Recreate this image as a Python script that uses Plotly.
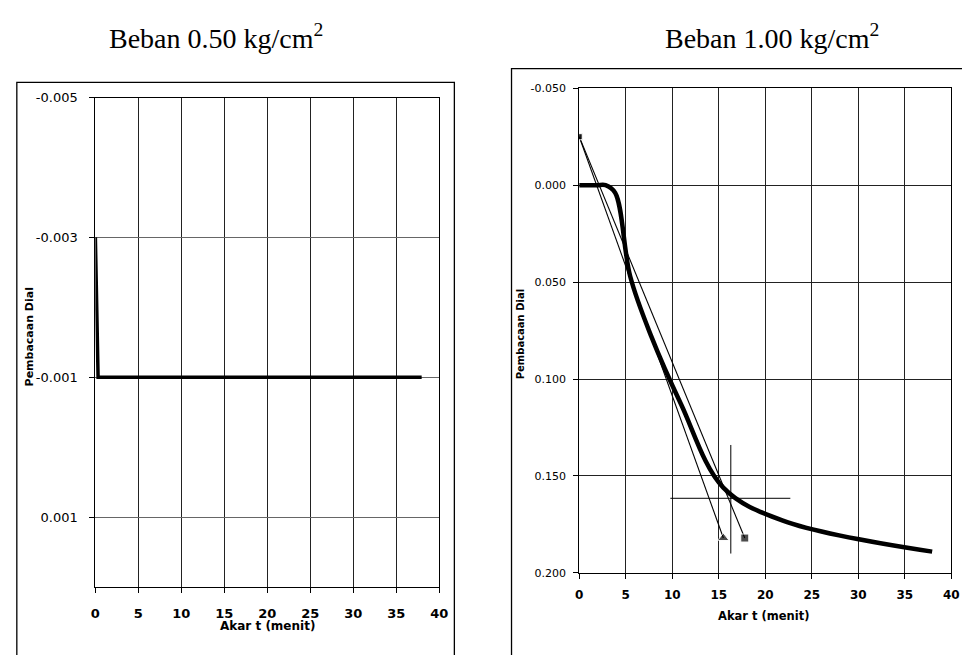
import plotly.graph_objects as go

# ---------------- data ----------------
akar_t = [0, 0.316, 0.5, 0.707, 1.0, 1.414, 2.0, 2.83, 3.87, 5.48, 7.75, 10.95, 15.49, 21.9, 37.95]
dial_050 = [-0.003, -0.001, -0.001, -0.001, -0.001, -0.001, -0.001, -0.001, -0.001,
            -0.001, -0.001, -0.001, -0.001, -0.001, -0.001]
dial_100 = [0.0, 0.0, 0.0, 0.0, 0.0, 0.0, 0.0, 0.0, 0.004, 0.047, 0.078, 0.113, 0.156, 0.173, 0.189]

# construction lines (Taylor sqrt-t method) for 1.00 kg/cm2
tangent_x = [0, 15.5]
tangent_y = [-0.025, 0.182]
line115_x = [0, 17.8]
line115_y = [-0.025, 0.182]
cross_v_x = [16.3, 16.3]
cross_v_y = [0.134, 0.190]
cross_h_x = [9.8, 22.7]
cross_h_y = [0.1615, 0.1615]

x_ticks = [0, 5, 10, 15, 20, 25, 30, 35, 40]
y1_ticks = [-0.005, -0.003, -0.001, 0.001]
y1_labels = ["-0.005", "-0.003", "-0.001", "0.001"]
y2_ticks = [-0.05, 0.0, 0.05, 0.10, 0.15, 0.20]
y2_labels = ["-0.050", "0.000", "0.050", "0.100", "0.150", "0.200"]

title_left = "Beban 0.50 kg/cm<sup>2</sup>"
title_right = "Beban 1.00 kg/cm<sup>2</sup>"
xtitle = "Akar t (menit)"
ytitle = "Pembacaan Dial"

# ---------------- layout helpers ----------------
W, H = 962, 655
def fx(px):
    return px / W
def fy(py):
    return 1 - py / H

fig = go.Figure()

# left chart
fig.add_trace(go.Scatter(x=akar_t, y=dial_050, mode="lines",
                         line=dict(color="black", width=3.5),
                         xaxis="x", yaxis="y", showlegend=False))

# right chart
fig.add_trace(go.Scatter(x=tangent_x, y=tangent_y, mode="lines+markers",
                         line=dict(color="black", width=1.1),
                         marker=dict(symbol=["square", "triangle-up"], size=[6, 10], color="black"),
                         xaxis="x2", yaxis="y2", showlegend=False))
fig.add_trace(go.Scatter(x=line115_x, y=line115_y, mode="lines+markers",
                         line=dict(color="black", width=1.1),
                         marker=dict(symbol=["square", "square"], size=[6, 8], color="black"),
                         xaxis="x2", yaxis="y2", showlegend=False))
fig.add_trace(go.Scatter(x=cross_v_x, y=cross_v_y, mode="lines",
                         line=dict(color="black", width=1),
                         xaxis="x2", yaxis="y2", showlegend=False))
fig.add_trace(go.Scatter(x=cross_h_x, y=cross_h_y, mode="lines",
                         line=dict(color="black", width=1),
                         xaxis="x2", yaxis="y2", showlegend=False))
fig.add_trace(go.Scatter(x=akar_t, y=dial_100, mode="lines",
                         line=dict(color="black", width=4.5, shape="spline", smoothing=1.0),
                         xaxis="x2", yaxis="y2", showlegend=False))

axis_common = dict(showline=True, mirror=True, linecolor="black", linewidth=1,
                   ticks="outside", tickcolor="black", ticklen=5, tickwidth=1,
                   zeroline=False, showgrid=True)

fig.update_layout(
    width=W, height=H,
    margin=dict(l=0, r=0, t=0, b=0),
    paper_bgcolor="white", plot_bgcolor="white",
    xaxis=dict(domain=[fx(91.7), fx(440.7)], range=[0, 40], tickvals=x_ticks,
               gridcolor="#222222", gridwidth=1.2,
               tickfont=dict(family="DejaVu Sans", size=13, color="black", weight="bold"),
               ticklabelstandoff=9, anchor="y", **axis_common),
    yaxis=dict(domain=[fy(592.7), fy(92.5)], range=[0.002, -0.005],
               tickvals=y1_ticks, ticktext=y1_labels,
               gridcolor="#666666", gridwidth=1,
               tickfont=dict(family="DejaVu Sans", size=13, color="black"),
               ticklabelstandoff=9, anchor="x", **axis_common),
    xaxis2=dict(domain=[fx(582.7), fx(960.2)], range=[0, 40], tickvals=x_ticks,
                gridcolor="#222222", gridwidth=1.2,
                tickfont=dict(family="DejaVu Sans", size=12, color="black", weight="bold"),
                ticklabelstandoff=6, anchor="y2", **axis_common),
    yaxis2=dict(domain=[fy(578.3), fy(83)], range=[0.2, -0.05],
                tickvals=y2_ticks, ticktext=y2_labels,
                gridcolor="#222222", gridwidth=1,
                tickfont=dict(family="DejaVu Sans", size=11, color="black"),
                ticklabelstandoff=5, anchor="x2", **axis_common),
)

annotations = [
    dict(x=fx(214), y=fy(30), text=title_left,
         font=dict(family="Liberation Serif", size=28, color="black")),
    dict(x=fx(778), y=fy(30), text=title_right,
         font=dict(family="Liberation Serif", size=28, color="black")),
    dict(x=fx(266), y=fy(633), text=xtitle,
         font=dict(family="DejaVu Sans", size=12, color="black", weight="bold")),
    dict(x=fx(770), y=fy(622), text=xtitle,
         font=dict(family="DejaVu Sans", size=11.5, color="black", weight="bold")),
    dict(x=fx(25), y=fy(337), text=ytitle, textangle=-90,
         font=dict(family="DejaVu Sans", size=11, color="black", weight="bold")),
    dict(x=fx(523), y=fy(334), text=ytitle, textangle=-90,
         font=dict(family="DejaVu Sans", size=10, color="black", weight="bold")),
]
for a in annotations:
    a.update(xref="paper", yref="paper", showarrow=False, xanchor="center", yanchor="middle")
fig.update_layout(annotations=annotations)

# chart-area frames
fig.add_shape(type="rect", xref="paper", yref="paper",
              x0=fx(12), x1=fx(456), y0=fy(720), y1=fy(77),
              line=dict(color="black", width=1.3), layer="below")
fig.add_shape(type="rect", xref="paper", yref="paper",
              x0=fx(514), x1=fx(1020), y0=fy(720), y1=fy(63),
              line=dict(color="black", width=1.3), layer="below")

fig.write_html("out.html",
               post_script="document.body.style.margin='0px';document.body.style.overflow='hidden';")
